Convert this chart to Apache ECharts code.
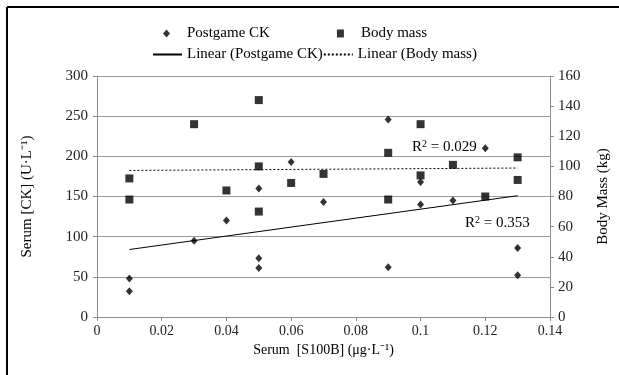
<!DOCTYPE html>
<html>
<head>
<meta charset="utf-8">
<title>S100B vs CK and body mass</title>
<script src="https://cdn.jsdelivr.net/npm/echarts@6/dist/echarts.min.js"></script>
<style>
  html, body { margin: 0; padding: 0; background: #fff; }
  #chart { width: 619px; height: 375px; }
</style>
</head>
<body>
<div id="chart"></div>
<script>
// serum S100B (x) for every subject
const s100b = [0.01, 0.01, 0.03, 0.04, 0.05, 0.05, 0.05, 0.06, 0.07, 0.09, 0.09, 0.10, 0.10, 0.11, 0.12, 0.13, 0.13];
// postgame CK (left axis)
const postgameCK = [48, 32, 95, 120, 160, 73, 61, 193, 143, 246, 62, 140, 168, 145, 210, 86, 52];
// body mass (right axis), same x order
const bodyMassX = [0.01, 0.01, 0.03, 0.04, 0.05, 0.05, 0.05, 0.06, 0.07, 0.09, 0.09, 0.10, 0.10, 0.11, 0.12, 0.13, 0.13];
const bodyMass = [92, 78, 128, 84, 144, 100, 70, 89, 95, 109, 78, 128, 94, 101, 80, 106, 91];

// trend line end points
const trendX = [0.01, 0.13];
const trendCK = [84, 151];
const trendMass = [97.3, 98.9];

const r2Mass = '0.029';
const r2CK = '0.353';

const pair = (xs, ys) => xs.map((x, i) => [x, ys[i]]);

const font = '"Liberation Serif", "Times New Roman", serif';
const axisGray = '#8c8c8c';

const chart = echarts.init(document.getElementById('chart'));

chart.setOption({
  animation: false,
  textStyle: { fontFamily: font, color: '#000' },
  grid: { left: 97, right: 66, top: 76, bottom: 58 },
  legend: [
    {
      data: [
        { name: 'Postgame CK', icon: 'diamond' },
        { name: 'Body mass', icon: 'rect' }
      ],
      left: 158, top: 21,
      itemWidth: 7, itemHeight: 8, itemGap: 67,
      textStyle: { fontFamily: font, fontSize: 15, color: '#000', padding: [0, 0, 0, 12] }
    },
    {
      data: [
        { name: 'Linear (Postgame CK)', itemStyle: { opacity: 0 } },
        { name: 'Linear (Body mass)', itemStyle: { opacity: 0 } }
      ],
      left: 147, top: 42,
      itemWidth: 29, itemHeight: 8, itemGap: 0,
      textStyle: { fontFamily: font, fontSize: 15, color: '#000' }
    }
  ],
  xAxis: {
    type: 'value',
    min: 0, max: 0.14, interval: 0.02,
    name: 'Serum  [S100B] (μg·L⁻¹)',
    nameLocation: 'middle', nameGap: 25,
    nameTextStyle: { fontFamily: font, fontSize: 14, color: '#000' },
    axisLine: { show: true, lineStyle: { color: axisGray } },
    axisTick: { show: true, length: 4, lineStyle: { color: axisGray } },
    axisLabel: { fontFamily: font, fontSize: 14, color: '#222', margin: 7 },
    splitLine: { show: false }
  },
  yAxis: [
    {
      type: 'value',
      min: 0, max: 300, interval: 50,
      name: 'Serum [CK] (U·L⁻¹)',
      nameLocation: 'middle', nameGap: 62,
      nameTextStyle: { fontFamily: font, fontSize: 15, color: '#000' },
      axisLine: { show: true, lineStyle: { color: axisGray } },
      axisTick: { show: true, length: 4, lineStyle: { color: axisGray } },
      axisLabel: { fontFamily: font, fontSize: 15, color: '#222', margin: 9 },
      splitLine: { show: true, lineStyle: { color: '#9a9a9a', width: 1 } }
    },
    {
      type: 'value',
      min: 0, max: 160, interval: 20,
      position: 'right',
      name: 'Body Mass (kg)',
      nameLocation: 'middle', nameGap: 46,
      nameTextStyle: { fontFamily: font, fontSize: 15, color: '#000' },
      axisLine: { show: true, lineStyle: { color: axisGray } },
      axisTick: { show: true, length: 4, lineStyle: { color: axisGray } },
      axisLabel: { fontFamily: font, fontSize: 15, color: '#222', margin: 8 },
      splitLine: { show: false }
    }
  ],
  series: [
    {
      name: 'Postgame CK',
      type: 'scatter',
      yAxisIndex: 0,
      symbol: 'diamond',
      symbolSize: [7, 8],
      itemStyle: { color: '#000' },
      data: pair(s100b, postgameCK),
      z: 4
    },
    {
      name: 'Body mass',
      type: 'scatter',
      yAxisIndex: 1,
      symbol: 'rect',
      symbolSize: 8,
      itemStyle: { color: '#000' },
      data: pair(bodyMassX, bodyMass),
      z: 3
    },
    {
      name: 'Linear (Postgame CK)',
      type: 'line',
      yAxisIndex: 0,
      symbol: 'none',
      lineStyle: { color: '#000', width: 1 },
      itemStyle: { color: '#000' },
      data: pair(trendX, trendCK)
    },
    {
      name: 'Linear (Body mass)',
      type: 'line',
      yAxisIndex: 1,
      symbol: 'none',
      lineStyle: { color: '#000', width: 1, type: [2, 2] },
      itemStyle: { color: '#000' },
      data: pair(trendX, trendMass)
    }
  ],
  graphic: [
    // page frame: top and left edge only
    { type: 'line', shape: { x1: 7, y1: 7, x2: 619, y2: 7 }, style: { stroke: '#000', lineWidth: 2 } },
    { type: 'line', shape: { x1: 7, y1: 7, x2: 7, y2: 375 }, style: { stroke: '#000', lineWidth: 2 } },
    {
      type: 'text', left: 412, top: 139, z: 10,
      style: {
        text: 'R{sup|2} = ' + r2Mass,
        font: '15px ' + font, fill: '#000',
        rich: { sup: { fontSize: 10, verticalAlign: 'top', fontFamily: font, padding: [0, 0, 6, 0] } }
      }
    },
    {
      type: 'text', left: 465, top: 215, z: 10,
      style: {
        text: 'R{sup|2} = ' + r2CK,
        font: '15px ' + font, fill: '#000',
        rich: { sup: { fontSize: 10, verticalAlign: 'top', fontFamily: font, padding: [0, 0, 6, 0] } }
      }
    }
  ]
});
</script>
</body>
</html>
